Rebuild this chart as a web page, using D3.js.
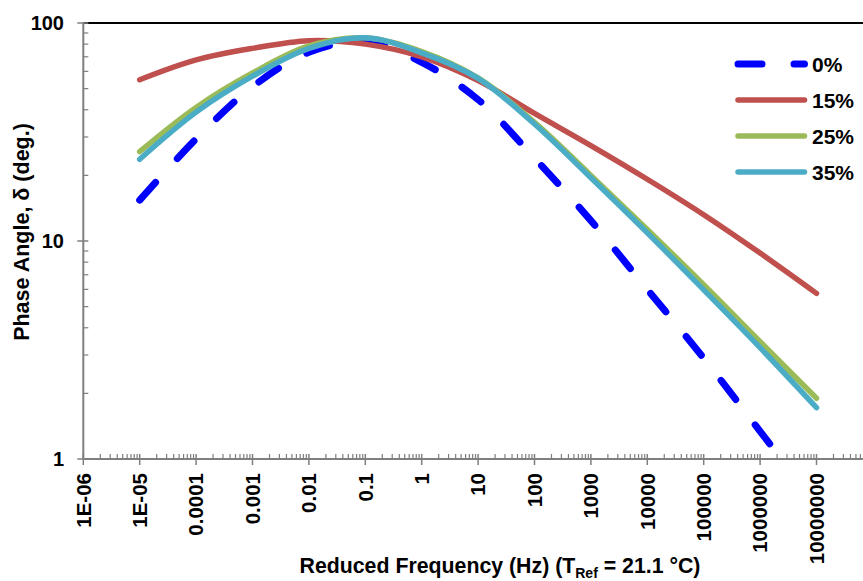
<!DOCTYPE html>
<html>
<head>
<meta charset="utf-8">
<script src="https://cdn.jsdelivr.net/npm/d3@7"></script>
<style>
  body { margin: 0; background: #fff; }
  svg { display: block; font-family: "Liberation Sans", Arial, sans-serif; font-weight: bold; }
</style>
</head>
<body>
<div id="chart"></div>
<script>
// reduced frequency (Hz), one point per decade
const freq = [1e-5, 1e-4, 1e-3, 1e-2, 1e-1, 1, 10, 100, 1e3, 1e4, 1e5, 1e6, 1e7];

// phase angle (deg.)
const phase0 = [15.4, 29.4, 51, 73.4, 82, 66, 44.5, 24.0, 12.4, 6.0, 2.9, 1.34, 0.62];
const phase15 = [54.9, 67.7, 76.5, 83, 80, 70, 54.5, 38.5, 27.4, 19.2, 13.2, 8.8, 5.75];
const phase25 = [25.7, 41, 59, 78.5, 85.5, 74, 56, 35, 20, 11.3, 6.3, 3.45, 1.9];
const phase35 = [23.7, 39, 57, 76.5, 85.5, 73, 55.7, 34.4, 19.5, 10.9, 5.97, 3.24, 1.72];

const seriesNames = ['0%', '15%', '25%', '35%'];
const seriesColors = ['#0000ff', '#c0504d', '#9bbb59', '#4bacc6'];

const xTickLabels = ['1E-06', '1E-05', '0.0001', '0.001', '0.01', '0.1', '1', '10', '100',
  '1000', '10000', '100000', '1000000', '10000000'];
const yTickValues = [1, 10, 100];

const width = 863, height = 581;
const plot = { left: 83.3, top: 23, bottom: 459, right: 863 };

const svg = d3.select('#chart').append('svg')
  .attr('width', width)
  .attr('height', height);

const x = d3.scaleLog()
  .domain([1e-6, 1e8])
  .range([plot.left, plot.left + 56.4 * 14]);

const y = d3.scaleLog()
  .domain([1, 100])
  .range([plot.bottom, plot.top]);

// clip for the curves
svg.append('clipPath').attr('id', 'plotclip')
  .append('rect')
  .attr('x', plot.left).attr('y', plot.top)
  .attr('width', plot.right - plot.left)
  .attr('height', plot.bottom - plot.top);

// top border
svg.append('line')
  .attr('x1', plot.left).attr('x2', plot.right)
  .attr('y1', plot.top).attr('y2', plot.top)
  .attr('stroke', '#000').attr('stroke-width', 2);

const axisColor = '#7f7f7f';

// y axis
const yAxis = svg.append('g');
yAxis.append('line')
  .attr('x1', plot.left).attr('x2', plot.left)
  .attr('y1', plot.top).attr('y2', plot.bottom)
  .attr('stroke', axisColor).attr('stroke-width', 2);

const yMinor = [];
[1, 10].forEach(d => { for (let k = 2; k <= 9; k++) yMinor.push(d * k); });
yAxis.selectAll('.yminor').data(yMinor).enter().append('line')
  .attr('x1', plot.left).attr('x2', plot.left + 5)
  .attr('y1', d => y(d)).attr('y2', d => y(d))
  .attr('stroke', axisColor).attr('stroke-width', 1.2);

yAxis.selectAll('.ymajor').data(yTickValues).enter().append('line')
  .attr('x1', plot.left - 6).attr('x2', plot.left + 5)
  .attr('y1', d => y(d)).attr('y2', d => y(d))
  .attr('stroke', axisColor).attr('stroke-width', 1.5);

yAxis.selectAll('text').data(yTickValues).enter().append('text')
  .attr('x', 64)
  .attr('y', d => y(d))
  .attr('dy', '0.36em')
  .attr('text-anchor', 'end')
  .attr('font-size', 20)
  .text(d => d);

// x axis
const xAxis = svg.append('g');
xAxis.append('line')
  .attr('x1', plot.left).attr('x2', plot.right)
  .attr('y1', plot.bottom).attr('y2', plot.bottom)
  .attr('stroke', axisColor).attr('stroke-width', 2);

const xMajor = d3.range(-6, 9).map(e => Math.pow(10, e));
const xMinor = [];
xMajor.forEach(d => { for (let k = 2; k <= 9; k++) xMinor.push(d * k); });

xAxis.selectAll('.xminor').data(xMinor.filter(d => x(d) < plot.right)).enter().append('line')
  .attr('x1', d => x(d)).attr('x2', d => x(d))
  .attr('y1', plot.bottom - 5).attr('y2', plot.bottom)
  .attr('stroke', axisColor).attr('stroke-width', 1.2);

xAxis.selectAll('.xmajor').data(xMajor.filter(d => x(d) < plot.right)).enter().append('line')
  .attr('x1', d => x(d)).attr('x2', d => x(d))
  .attr('y1', plot.bottom - 5).attr('y2', plot.bottom + 6)
  .attr('stroke', axisColor).attr('stroke-width', 1.5);

xAxis.selectAll('text').data(xTickLabels).enter().append('text')
  .attr('transform', (d, i) => `translate(${x(xMajor[i])},473) rotate(-90)`)
  .attr('dy', '0.36em')
  .attr('text-anchor', 'end')
  .attr('font-size', 20.5)
  .text(d => d);

// axis titles
const xTitle = svg.append('text')
  .attr('x', 500).attr('y', 573)
  .attr('text-anchor', 'middle')
  .attr('font-size', 21.3);
xTitle.append('tspan').text('Reduced Frequency (Hz) (T');
xTitle.append('tspan').attr('font-size', 14).attr('dy', 5).text('Ref');
xTitle.append('tspan').attr('dy', -5).text(' = 21.1 °C)');

svg.append('text')
  .attr('transform', 'translate(29,232) rotate(-90)')
  .attr('text-anchor', 'middle')
  .attr('font-size', 21.5)
  .text('Phase Angle, δ (deg.)');

// curves
const series = [phase0, phase15, phase25, phase35];
const line = d3.line()
  .x((d, i) => x(freq[i]))
  .y(d => y(d))
  .curve(d3.curveCatmullRom.alpha(0.5));

const curves = svg.append('g').attr('clip-path', 'url(#plotclip)');
series.forEach((vals, s) => {
  curves.append('path')
    .attr('d', line(vals))
    .attr('fill', 'none')
    .attr('stroke', seriesColors[s])
    .attr('stroke-width', s === 0 ? 7 : 5.5)
    .attr('stroke-linecap', 'round')
    .attr('stroke-dasharray', s === 0 ? '24,32' : null);
});

// legend
const legend = svg.append('g');
seriesNames.forEach((name, s) => {
  const ly = 64 + s * 36;
  legend.append('line')
    .attr('x1', 738).attr('x2', 804.5)
    .attr('y1', ly).attr('y2', ly)
    .attr('stroke', seriesColors[s])
    .attr('stroke-width', s === 0 ? 7 : 5.5)
    .attr('stroke-linecap', 'round')
    .attr('stroke-dasharray', s === 0 ? '24,32' : null);
  legend.append('text')
    .attr('x', 812).attr('y', ly)
    .attr('dy', '0.36em')
    .attr('font-size', 21)
    .text(name);
});
</script>
</body>
</html>
